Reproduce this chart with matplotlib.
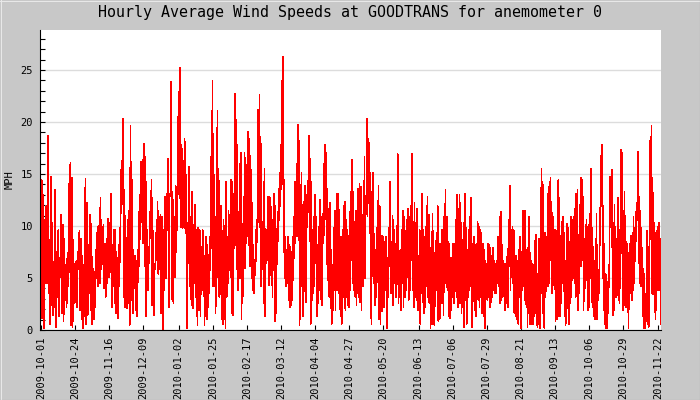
import numpy as np
import matplotlib
matplotlib.use('Agg')
import matplotlib.pyplot as plt
import matplotlib.dates as mdates
from matplotlib.lines import Line2D

# hourly average wind speed (MPH), read off the chart as a (high, low)
# pair for roughly every day; four stretches, each with its day range
start = '2009-10-01'
seg_days = [(0.0, 109.7), (110.4, 218.1), (218.8, 326.7), (327.1, 418.8)]

hi_a = [14.4, 13.0, 10.6, 11.9, 18.7, 8.7, 14.7, 10.3, 6.6, 13.5,
        6.1, 9.6, 6.9, 11.1, 10.1, 8.8, 5.8, 6.9, 14.1, 16.1,
        14.6, 8.7, 6.4, 6.7, 7.5, 9.5, 8.8, 7.1, 6.3, 14.5,
        12.2, 8.2, 11.1, 10.2, 5.9, 5.6, 7.7, 9.9, 10.0, 12.7,
        9.9, 10.1, 8.3, 8.8, 10.7, 10.3, 13.1, 8.2, 9.6, 9.6,
        6.4, 8.2, 8.2, 16.3, 20.3, 13.5, 8.7, 10.6, 11.5, 19.6,
        14.4, 7.7, 7.1, 6.7, 7.7, 13.0, 16.2, 16.4, 17.9, 16.7,
        9.6, 8.0, 11.4, 14.4, 9.5, 6.4, 9.3, 12.3, 10.9, 11.1,
        10.9, 9.6, 12.8, 13.1, 16.5, 12.8, 23.9, 13.3, 10.9, 13.9,
        12.7, 22.9, 25.2, 17.8, 16.3, 18.4, 14.9, 10.3, 15.7, 10.9,
        13.3, 10.1, 12.0, 9.6, 9.8, 9.6, 8.0, 9.6, 7.1]
lo_a = [1.1, 1.1, 0.2, 4.5, 4.5, 3.5, 0.6, 2.4, 1.4, 2.2,
        0.3, 3.2, 1.3, 5.1, 1.6, 0.8, 2.9, 2.2, 4.2, 5.6,
        0.5, 0.3, 2.6, 2.7, 2.2, 5.8, 1.9, 1.0, 0.2, 1.3,
        0.6, 1.4, 3.5, 1.9, 0.6, 1.0, 2.2, 5.0, 4.2, 4.5,
        5.8, 6.3, 4.0, 3.2, 4.5, 5.1, 5.6, 2.2, 4.2, 2.6,
        1.6, 1.1, 4.2, 11.5, 13.0, 3.2, 2.2, 2.1, 2.6, 0.5,
        2.9, 1.6, 4.0, 1.9, 1.3, 6.1, 8.7, 10.4, 8.3, 6.1,
        1.3, 3.8, 6.4, 10.9, 2.4, 1.4, 5.8, 6.7, 5.4, 5.8,
        1.6, 0.0, 3.8, 5.0, 9.6, 2.2, 13.1, 3.0, 2.6, 5.1,
        7.5, 16.3, 12.7, 9.9, 9.8, 9.9, 9.3, 0.2, 6.4, 4.2,
        2.4, 2.1, 4.5, 3.2, 0.5, 1.9, 1.3, 3.8, 4.2]

hi_b = [6.4, 9.0, 8.2, 7.2, 9.0, 16.7, 24.0, 14.9, 10.9, 7.1,
        21.1, 14.4, 7.7, 11.9, 9.5, 10.6, 8.7, 14.3, 8.8, 11.5,
        10.4, 14.4, 14.3, 8.7, 22.7, 20.2, 17.8, 9.6, 16.0, 17.0,
        9.6, 10.9, 17.0, 15.2, 15.9, 19.1, 18.4, 15.4, 12.2, 8.2,
        6.1, 9.6, 10.6, 21.2, 22.6, 17.9, 10.4, 9.5, 15.5, 9.0,
        9.6, 12.8, 12.8, 12.7, 10.6, 10.4, 13.1, 11.9, 9.3, 11.4,
        13.6, 16.0, 24.0, 26.3, 14.4, 9.0, 7.7, 9.0, 8.2, 8.0,
        7.5, 9.0, 10.9, 14.3, 16.0, 19.7, 18.2, 12.8, 15.1, 11.2,
        12.3, 13.9, 13.0, 14.3, 18.7, 16.5, 14.3, 9.6, 10.9, 13.0,
        10.9, 8.2, 9.9, 12.5, 10.9, 9.8, 16.0, 17.8, 17.0, 13.6,
        11.7, 12.2, 7.7, 5.9, 9.8, 11.5, 10.3, 13.1, 13.1, 7.1,
        9.0, 6.1, 11.9, 12.3, 10.6, 9.6, 9.1, 11.4, 13.3, 16.4,
        13.3, 10.4, 11.5, 9.6, 13.6, 14.1, 13.8, 10.4, 11.1, 16.7]
lo_b = [0.5, 1.3, 1.0, 2.2, 3.5, 7.7, 12.3, 4.2, 4.2, 1.6,
        10.6, 5.1, 3.2, 3.4, 1.0, 0.6, 1.0, 0.2, 3.2, 4.5,
        8.7, 5.1, 1.6, 1.4, 7.9, 8.2, 5.8, 3.8, 7.7, 5.0,
        1.0, 3.2, 8.0, 5.9, 8.3, 9.0, 8.2, 6.1, 5.0, 3.8,
        3.5, 5.3, 6.6, 10.4, 10.4, 9.9, 4.2, 5.8, 2.6, 1.3,
        6.4, 6.7, 4.3, 5.9, 5.3, 3.2, 5.8, 0.8, 1.6, 6.3,
        10.3, 11.9, 13.5, 14.6, 7.5, 5.0, 4.2, 4.5, 2.9, 2.2,
        2.4, 2.9, 4.8, 8.3, 9.6, 9.0, 9.9, 0.5, 9.9, 4.2,
        1.3, 3.7, 2.7, 9.9, 11.5, 8.5, 0.6, 2.9, 3.5, 4.2,
        6.4, 1.3, 2.6, 3.8, 3.0, 2.4, 8.3, 9.1, 10.7, 6.3,
        4.8, 3.2, 2.1, 0.6, 1.9, 5.6, 1.9, 3.8, 4.0, 3.5,
        1.3, 0.6, 3.2, 4.2, 1.9, 3.2, 2.4, 2.2, 3.8, 6.7,
        4.5, 3.8, 3.2, 2.4, 3.5, 3.2, 2.7, 1.9, 4.2, 8.3]

hi_c = [11.1, 20.3, 18.4, 18.0, 13.3, 10.9, 15.1, 8.3, 7.1, 9.8,
        13.9, 11.9, 8.0, 9.1, 9.0, 8.3, 9.0, 6.9, 9.8, 14.3,
        8.5, 11.0, 9.6, 8.3, 6.7, 16.9, 6.4, 7.7, 9.6, 11.5,
        10.9, 9.5, 10.6, 11.7, 10.9, 11.9, 16.9, 10.4, 12.2, 9.5,
        11.7, 7.1, 9.6, 8.3, 13.1, 9.6, 9.0, 9.9, 12.8, 11.1,
        7.2, 7.9, 11.2, 7.4, 7.4, 9.3, 11.9, 7.5, 8.3, 9.6,
        9.6, 10.9, 13.5, 10.9, 8.5, 8.3, 6.9, 6.9, 8.3, 8.3,
        10.6, 13.0, 11.7, 13.0, 10.3, 7.2, 10.3, 13.1, 9.8, 7.7,
        9.6, 10.9, 12.7, 8.3, 9.0, 8.2, 8.3, 10.4, 9.9, 9.6,
        9.3, 8.3, 7.7, 6.7, 6.4, 8.3, 8.2, 7.9, 7.1, 7.9,
        6.7, 6.4, 6.7, 9.0, 10.9, 11.4, 8.2, 6.7, 6.4, 6.4,
        7.1, 10.6, 13.9, 9.6, 9.9, 9.6, 7.1, 7.1, 6.7, 7.7,
        9.0, 7.5, 11.5, 9.3, 11.5]
lo_c = [5.0, 11.1, 10.9, 12.2, 9.3, 0.6, 8.3, 4.5, 2.4, 3.2,
        5.9, 1.0, 0.6, 1.8, 2.9, 2.2, 3.8, 0.2, 3.2, 6.1,
        3.5, 4.8, 2.4, 4.5, 3.2, 6.7, 2.6, 3.2, 1.9, 4.5,
        2.2, 3.2, 3.8, 5.1, 2.9, 3.8, 6.7, 3.8, 2.2, 3.2,
        2.9, 1.9, 2.6, 0.6, 3.5, 2.7, 1.6, 2.2, 4.2, 3.2,
        2.6, 0.2, 5.8, 0.6, 0.5, 3.8, 5.1, 0.8, 1.0, 3.5,
        2.6, 1.4, 4.5, 5.1, 3.8, 1.3, 1.1, 1.9, 3.2, 2.6,
        3.8, 3.2, 2.2, 3.8, 2.6, 1.6, 2.2, 0.3, 2.9, 0.6,
        3.2, 3.8, 4.2, 0.3, 3.2, 1.9, 1.3, 3.2, 2.9, 2.2,
        3.2, 1.6, 1.3, 0.2, 3.5, 2.9, 3.2, 2.2, 2.7, 3.2,
        3.8, 3.5, 3.5, 4.5, 4.2, 2.6, 2.9, 3.2, 3.5, 1.9,
        2.6, 2.2, 6.4, 3.8, 5.1, 4.5, 1.6, 1.3, 1.0, 0.6,
        3.2, 0.2, 3.8, 4.2, 5.1]

hi_d = [7.5, 7.7, 7.9, 10.9, 7.4, 6.7, 6.4, 6.3, 8.6, 9.2,
        5.4, 5.4, 8.8, 3.5, 15.5, 14.3, 9.3, 9.3, 9.0, 7.7,
        13.1, 14.3, 14.6, 11.9, 10.9, 6.9, 9.6, 9.5, 9.3, 14.4,
        12.7, 9.1, 10.4, 10.9, 9.3, 6.7, 4.3, 10.2, 9.8, 8.5,
        10.9, 10.6, 7.7, 10.9, 11.7, 13.1, 13.5, 9.2, 12.0, 14.6,
        14.4, 12.8, 8.8, 8.3, 10.6, 9.9, 10.1, 11.2, 15.5, 9.8,
        8.0, 6.7, 6.7, 11.2, 6.1, 5.8, 10.7, 16.8, 17.8, 11.9,
        8.3, 5.4, 5.3, 4.2, 5.3, 14.7, 14.6, 15.4, 7.7, 12.0,
        9.9, 7.9, 12.7, 9.6, 7.4, 17.3, 17.0, 11.5, 13.3, 8.5,
        8.3, 7.4, 5.3, 8.3, 9.1, 9.3, 10.9, 9.8, 11.4, 12.2,
        17.1, 12.8, 11.5, 9.8, 7.9, 5.9, 3.5, 2.6, 9.5, 8.0,
        5.3, 18.2, 19.6, 14.6, 10.3, 9.3, 4.5, 9.5, 9.9, 10.3,
        8.8, 4.0]
lo_d = [2.9, 2.2, 0.3, 1.6, 0.6, 0.6, 0.6, 0.6, 1.3, 1.6,
        0.5, 0.3, 0.6, 0.2, 9.0, 3.5, 1.6, 0.2, 3.2, 3.7,
        4.2, 4.5, 6.7, 6.7, 3.5, 4.3, 4.2, 0.8, 1.0, 3.2,
        1.3, 1.3, 2.6, 4.5, 4.5, 1.3, 0.5, 4.2, 2.1, 0.6,
        2.6, 3.2, 4.8, 5.0, 4.5, 3.2, 5.3, 1.9, 3.5, 6.6,
        6.1, 6.7, 1.9, 4.0, 5.4, 4.8, 1.9, 2.2, 9.6, 2.7,
        2.2, 1.3, 1.0, 1.8, 1.0, 2.9, 3.5, 11.9, 11.9, 5.0,
        1.9, 0.6, 0.2, 0.2, 1.6, 6.4, 9.9, 8.0, 1.4, 1.9,
        3.2, 3.2, 5.0, 2.9, 2.6, 7.4, 7.4, 1.9, 3.5, 2.4,
        2.2, 2.7, 0.2, 4.5, 3.5, 2.9, 3.8, 4.5, 6.6, 8.5,
        11.5, 6.4, 4.5, 4.2, 4.3, 1.3, 0.2, 0.2, 0.8, 0.6,
        0.3, 9.8, 14.7, 3.5, 3.4, 4.2, 1.0, 1.9, 3.8, 3.8,
        4.0, 0.6]

tick_labels = ['2009-10-01', '2009-10-24', '2009-11-16', '2009-12-09',
               '2010-01-02', '2010-01-25', '2010-02-17', '2010-03-12',
               '2010-04-04', '2010-04-27', '2010-05-20', '2010-06-13',
               '2010-07-06', '2010-07-29', '2010-08-21', '2010-09-13',
               '2010-10-06', '2010-10-29', '2010-11-22']

title = 'Hourly Average Wind Speeds at GOODTRANS for anemometer 0'

plt.rcParams['font.family'] = ['DejaVu Sans Mono']

his = [hi_a, hi_b, hi_c, hi_d]
los = [lo_a, lo_b, lo_c, lo_d]

# build a low/high zigzag in time
t0 = mdates.date2num(np.datetime64(start))
xs, ys = [], []
for (d0, d1), hi, lo in zip(seg_days, his, los):
   t = np.linspace(d0, d1, len(hi))
   half = (d1 - d0) / (len(hi) - 1) / 2
   for ti, h, l in zip(t, hi, lo):
      xs += [t0 + ti, t0 + ti + half]
      ys += [l, h]

fig = plt.figure(figsize=(7, 4), dpi=100, facecolor='#c8c8c8')
ax = fig.add_axes([40 / 700, 70 / 400, 621 / 700, 300 / 400])
ax.set_facecolor('white')

ax.plot(xs, ys, color='#ff0000', lw=0.5, antialiased=False, zorder=3)

ax.set_xlim(t0 - 0.7, t0 + 418.8)
ax.set_ylim(0, 28.85)

ax.set_yticks(range(0, 30, 5))
ax.set_yticks(range(0, 29), minor=True)
tick_pos = [mdates.date2num(np.datetime64(d)) for d in tick_labels]
ax.set_xticks(tick_pos, tick_labels, rotation=90)

ax.yaxis.grid(True, which='major', color='#dcdcdc', lw=1)
ax.set_axisbelow(True)

ax.tick_params(which='both', direction='in', length=3.5, width=0.8,
               colors='black', labelsize=7.5, pad=5,
               top=False, right=False)

for s in ['top', 'right']:
   ax.spines[s].set_visible(False)
for s in ['left', 'bottom']:
   ax.spines[s].set_linewidth(0.8)
   ax.spines[s].set_color('black')
   ax.spines[s].set_zorder(4)

fig.text(0.5, 1 - 13 / 400, title, ha='center', va='center', fontsize=10.8)
fig.text(10 / 700, 0.55, 'MPH', rotation=90, ha='center', va='center',
         fontsize=7.5)

# bevelled frame around the picture
fig.add_artist(Line2D([0, 1], [1 - 0.5 / 400] * 2, color='#e8e8e8', lw=0.75))
fig.add_artist(Line2D([0.5 / 700] * 2, [0, 1], color='#e8e8e8', lw=0.75))
fig.add_artist(Line2D([0, 1], [0.5 / 400] * 2, color='#404040', lw=0.75))
fig.add_artist(Line2D([1 - 0.5 / 700] * 2, [0, 1], color='#404040', lw=0.75))

fig.savefig('out.png', dpi=100, facecolor=fig.get_facecolor())
